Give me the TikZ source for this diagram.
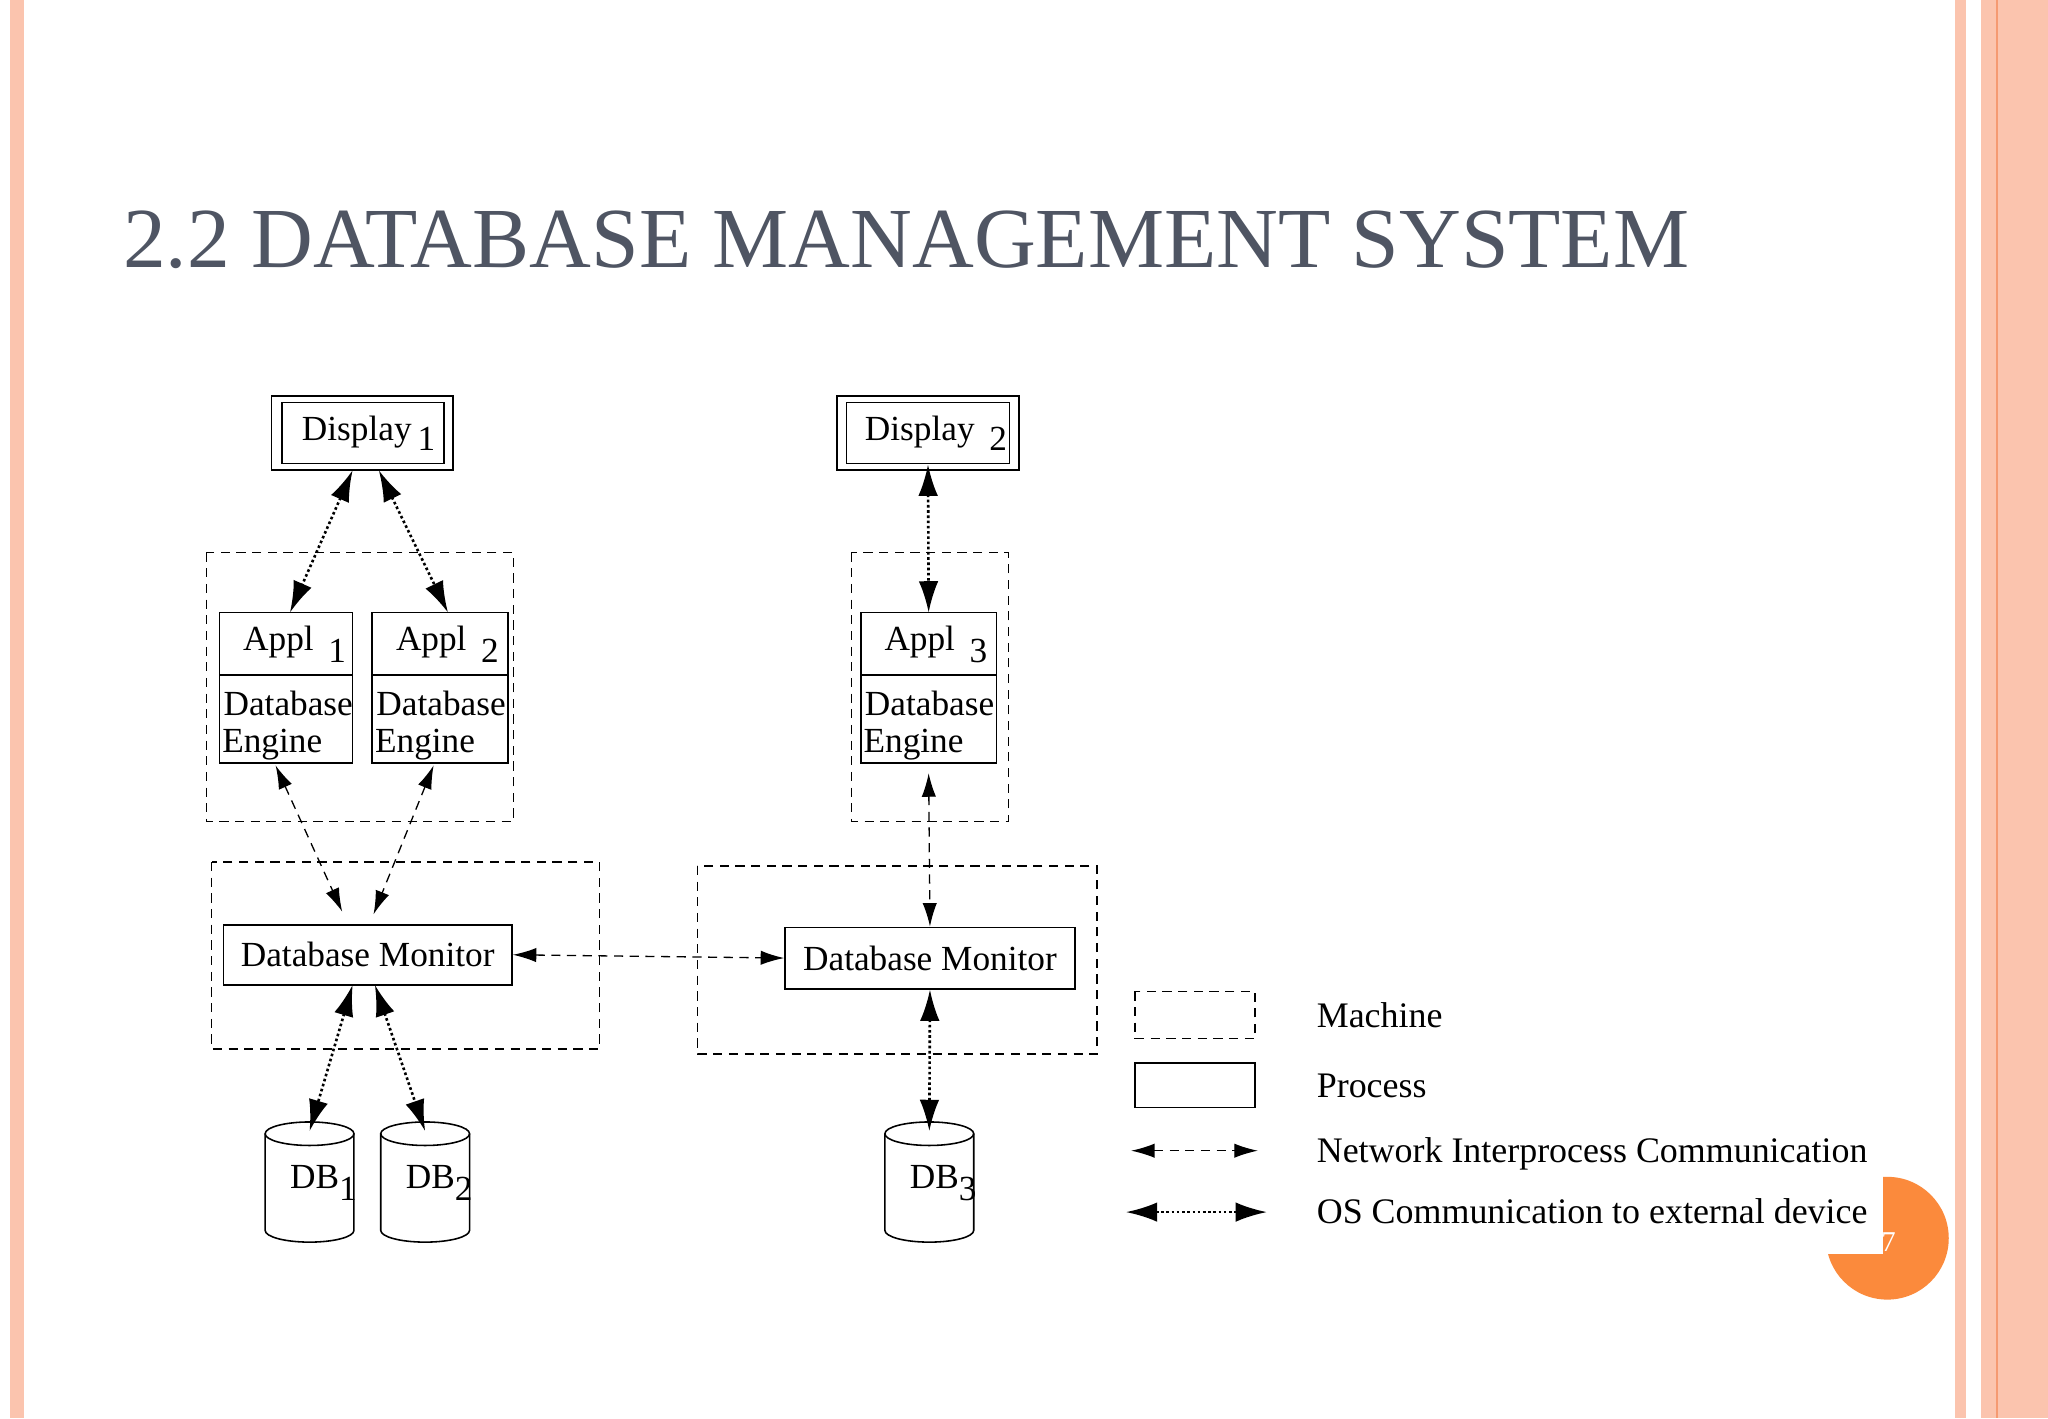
\documentclass[tikz,border=0pt]{standalone}
\usepackage{fontspec}
\setmainfont{Liberation Serif}
\usetikzlibrary{arrows.meta}
\definecolor{salmon}{HTML}{FBC4AE}
\definecolor{dsal}{HTML}{F59A72}
\definecolor{orng}{HTML}{FB8A3C}
\definecolor{ttl}{HTML}{4F5563}
\begin{document}
\begin{tikzpicture}[x=1pt,y=-1pt,
  box/.style={draw,line width=1.2pt},
  mach/.style={draw,dash pattern=on 7pt off 5pt,line width=1.1pt},
  txt/.style={font=\fontsize{27}{30}\selectfont,inner sep=0pt},
  os/.style={line width=2pt,dotted,{Latex[length=24pt,width=15pt]}-{Latex[length=24pt,width=15pt]}},
  net/.style={line width=1pt,dash pattern=on 7pt off 5pt,{Latex[length=18pt,width=11pt]}-{Latex[length=18pt,width=11pt]}}]
\useasboundingbox (0,0) rectangle (1568,1086);
\fill[white] (0,0) rectangle (1568,1086);
% borders
\fill[salmon] (8,0) rectangle (18,1086);
\fill[salmon] (1497,0) rectangle (1505,1086);
\fill[salmon] (1517,0) rectangle (1568,1086);
\draw[dsal,line width=1pt] (1529,0) -- (1529,1086);
% page circle
\fill[orng] (1445,948) circle (47);
\fill[white] (1390,895) rectangle (1442,960);
\node[white,font=\fontsize{22}{24}\selectfont,anchor=base] (pg) at (1446,958) {7};
% title
\node[ttl,anchor=base west,inner sep=0pt,font=\fontsize{65.5}{70}\selectfont] (title) at (94,205) {2.2 DATABASE MANAGEMENT SYSTEM};
% machines
\draw[mach] (158,423) rectangle (393,629);
\draw[mach] (652,423) rectangle (772,629);
\draw[mach] (162,660) rectangle (459,803);
\draw[mach] (534,663) rectangle (840,807);
% displays
\draw[box] (208,303) rectangle (347,360);
\node[box,minimum width=124pt,minimum height=47pt,inner sep=0pt] (d1) at (278,331.5) {};
\node[txt,anchor=base west] at (231,337) {Display\,\raisebox{-8pt}{1}};
\draw[box] (641,303) rectangle (780,360);
\node[box,minimum width=125pt,minimum height=47pt,inner sep=0pt] (d2) at (710.5,331.5) {};
\node[txt,anchor=base west] at (662,337) {Display \,\raisebox{-8pt}{2}};
% appl boxes
\foreach \n/\xa/\xb/\s in {a1/168/270/1,a2/285/389/2,a3/659/763/3}{
  \draw[box] (\xa,469) rectangle (\xb,584);
  \draw[box] (\xa,517) -- (\xb,517);
  \node[txt,anchor=base west] at (\xa+18,498) {Appl \,\raisebox{-9pt}{\s}};
  \node[txt,anchor=base west] at (\xa+3,548) {Database};
  \node[txt,anchor=base west] at (\xa+2,576) {Engine};
}
\coordinate (a1t) at (222,469); \coordinate (a2t) at (343,469); \coordinate (a3t) at (711,469);
\coordinate (a1b) at (211,586); \coordinate (a2b) at (332,586); \coordinate (a3b) at (711,592);
% monitors
\node[box,txt,minimum width=221pt,minimum height=46pt] (m1) at (281.5,731) {Database Monitor};
\node[box,txt,minimum width=222pt,minimum height=47pt] (m2) at (712,733.5) {Database Monitor};
% dbs
\foreach \n/\x/\s in {db1/237/1,db2/325.5/2,db3/711.5/3}{
  \coordinate (\n) at (\x,866);
  \draw[line width=1.2pt] (\x-34,868) -- (\x-34,942) arc[start angle=180,end angle=0,x radius=34,y radius=9] -- (\x+34,868);
  \draw[line width=1.2pt] (\x,868) ellipse [x radius=34,y radius=9];
  \node[txt,anchor=base west] at (\x-15,910) {DB\raisebox{-9pt}{\s}};
}
% OS arrows
\draw[os] (270,360) -- (a1t);
\draw[os] (290,360) -- (a2t);
\draw[os] (d2.south) -- (a3t);
\draw[os] (270,754) -- (db1);
\draw[os] (287,754) -- (db2);
\draw[os] (m2.south) -- (db3);
% net arrows
\draw[net] (a1b) -- (262,698);
\draw[net] (a2b) -- (286,700);
\draw[net] (a3b) -- (m2.north);
\draw[net] (m1.east) -- (m2.west);
% legend
\draw[mach] (869,759) rectangle (961,795);
\draw[box] (869,814) rectangle (961,848);
\coordinate (l1a) at (866,881); \coordinate (l1b) at (963,881);
\coordinate (l2a) at (862,928); \coordinate (l2b) at (970,928);
\draw[net] (l1a) -- (l1b);
\draw[os] (l2a) -- (l2b);
\begin{scope}[txt/.append style={font=\fontsize{27.5}{30}\selectfont}]
\node[txt,anchor=base west] at (1008,787) {Machine};
\node[txt,anchor=base west] at (1008,840) {Process};
\node[txt,anchor=base west] at (1008,890) {Network Interprocess Communication};
\node[txt,anchor=base west] at (1008,937) {OS Communication to external device};
\end{scope}
\end{tikzpicture}
\end{document}
